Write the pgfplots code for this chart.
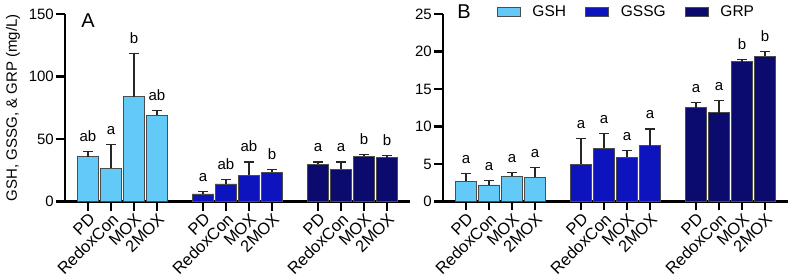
\documentclass[border=0pt]{standalone}
\usepackage{fontspec}
\setmainfont{Liberation Sans}
\usepackage{pgfplots}
\usepackage{pgfplotstable}
\pgfplotsset{compat=1.18}

\definecolor{cGSH}{HTML}{63C9F7}
\definecolor{cGSSG}{HTML}{0D14BD}
\definecolor{cGRP}{HTML}{0B0B6E}
\newcommand\fs{\fontsize{15}{18}\selectfont}
\newcommand\fx{\fontsize{16.5}{19}\selectfont}

% x: bar position, y: mean, e: upper error, t: top of error bar, l: letter
\pgfplotstableread{
x y e t l
0 35.7 4.5 40.2 ab
1 26.7 18.9 45.6 a
2 83.7 34.6 118.3 b
3 68.9 4.1 73.0 ab
}\AGSH
\pgfplotstableread{
x y e t l
5 6.0 2.0 8.0 a
6 14.0 3.3 17.3 ab
7 21.0 10.6 31.6 ab
8 23.3 2.6 25.9 b
}\AGSSG
\pgfplotstableread{
x y e t l
10 29.8 1.8 31.6 a
11 25.9 5.7 31.6 a
12 36.0 1.3 37.3 b
13 35.0 1.8 36.8 b
}\AGRP
\pgfplotstableread{
x y e t l
0 2.72 0.98 3.70 a
1 2.20 0.65 2.85 a
2 3.37 0.48 3.85 a
3 3.20 1.37 4.57 a
}\BGSH
\pgfplotstableread{
x y e t l
5 4.97 3.45 8.42 a
6 7.08 1.95 9.03 a
7 5.92 0.90 6.82 a
8 7.43 2.24 9.67 a
}\BGSSG
\pgfplotstableread{
x y e t l
10 12.48 0.77 13.25 a
11 11.83 1.67 13.50 a
12 18.65 0.25 18.90 b
13 19.38 0.60 19.98 b
}\BGRP

\pgfplotsset{
  panel/.style={
    scale only axis, width=345pt, height=187.5pt,
    anchor=south west, clip=false,
    xmin=-1, xmax=14, ymin=0,
    axis x line*=bottom, axis y line*=left,
    axis line style={line width=2.2pt, -},
    tick align=outside, major tick length=9pt,
    tick style={line width=2.2pt, black},
    xtick={0,1,2,3,5,6,7,8,10,11,12,13},
    xticklabels={PD,RedoxCon,MOX,2MOX,PD,RedoxCon,MOX,2MOX,PD,RedoxCon,MOX,2MOX},
    xticklabel style={rotate=45, anchor=north east, inner sep=1pt, font=\fx},
    yticklabel style={font=\fs, inner sep=2pt},
    /pgf/number format/assume math mode=true,
    legend image code/.code={\draw[#1, draw=black!70, line width=0.8pt] (0pt,-4pt) rectangle (23pt,5pt);},
  },
  bars/.style={ybar, bar width=0.94, bar shift=0pt, draw=black!70, line width=0.9pt,
    error bars/y dir=plus, error bars/y explicit,
    error bars/error bar style={line width=1.2pt, black!85},
    error bars/error mark options={rotate=90, mark size=5pt, line width=1.2pt, black!85}},
  letters/.style={draw=none, mark=none, forget plot, point meta=explicit symbolic,
    nodes near coords,
    every node near coord/.append style={anchor=base, yshift=10pt, inner sep=0pt, font=\fs}},
}

\begin{document}
\begin{tikzpicture}
\useasboundingbox (0,0) rectangle (789pt,278pt);

\begin{axis}[panel, at={(65pt,76.5pt)}, ymax=150, ytick={0,50,100,150},
  ylabel={GSH, GSSG, \& GRP (mg/L)},
  ylabel style={at={(rel axis cs:0,0.5)}, anchor=center, yshift=52pt, font=\fs}]
  \addplot[bars, fill=cGSH] table[x=x, y=y, y error=e] {\AGSH};
  \addplot[bars, fill=cGSSG] table[x=x, y=y, y error=e] {\AGSSG};
  \addplot[bars, fill=cGRP] table[x=x, y=y, y error=e] {\AGRP};
  \addplot[letters] table[x=x, y=t, meta=l] {\AGSH};
  \addplot[letters] table[x=x, y=t, meta=l] {\AGSSG};
  \addplot[letters] table[x=x, y=t, meta=l] {\AGRP};
\end{axis}

\begin{axis}[panel, at={(443pt,76.5pt)}, ymax=25, ytick={0,5,10,15,20,25},
  legend columns=3,
  legend style={draw=none, fill=none, inner sep=0pt, font=\fontsize{15.5}{18}\selectfont,
    at={(rel axis cs:0.155,1.01)}, anchor=west,
    nodes={inner sep=0pt},
    /tikz/every odd column/.style={column sep=12pt},
    /tikz/every even column/.style={column sep=19pt}}]
  \addplot[bars, fill=cGSH] table[x=x, y=y, y error=e] {\BGSH};
  \addlegendentry{GSH}
  \addplot[bars, fill=cGSSG] table[x=x, y=y, y error=e] {\BGSSG};
  \addlegendentry{GSSG}
  \addplot[bars, fill=cGRP] table[x=x, y=y, y error=e] {\BGRP};
  \addlegendentry{GRP}
  \addplot[letters] table[x=x, y=t, meta=l] {\BGSH};
  \addplot[letters] table[x=x, y=t, meta=l] {\BGSSG};
  \addplot[letters] table[x=x, y=t, meta=l] {\BGRP};
\end{axis}

\node[font=\fontsize{20}{24}\selectfont] at (88pt,257pt) {A};
\node[font=\fontsize{20}{24}\selectfont] at (464pt,266.5pt) {B};
\end{tikzpicture}
\end{document}
